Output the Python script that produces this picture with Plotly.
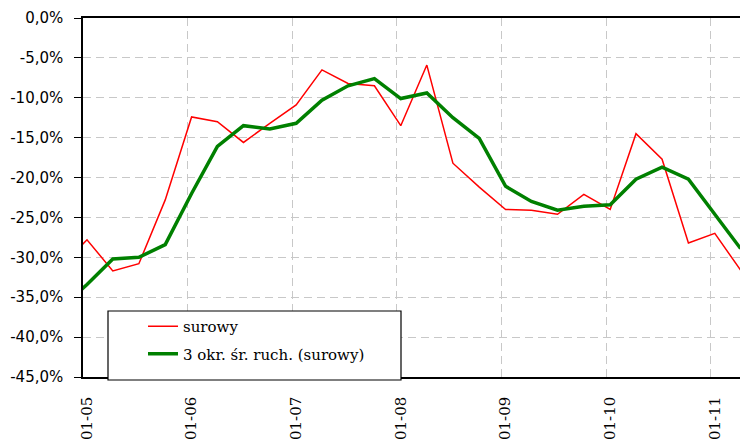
import plotly.graph_objects as go

# quarterly dates (mid-month of quarter start)
dates = [
    "2004-10-15",
    "2005-01-15", "2005-04-15", "2005-07-15", "2005-10-15",
    "2006-01-15", "2006-04-15", "2006-07-15", "2006-10-15",
    "2007-01-15", "2007-04-15", "2007-07-15", "2007-10-15",
    "2008-01-15", "2008-04-15", "2008-07-15", "2008-10-15",
    "2009-01-15", "2009-04-15", "2009-07-15", "2009-10-15",
    "2010-01-15", "2010-04-15", "2010-07-15", "2010-10-15",
    "2011-01-15", "2011-04-15",
]

surowy = [
    -31.2,
    -27.8, -31.7, -30.8, -22.8,
    -12.4, -13.0, -15.6, -13.2,
    -10.9, -6.5, -8.2, -8.5,
    -13.5, -5.9, -18.2, -21.2,
    -24.0, -24.1, -24.6, -22.1,
    -24.0, -14.5, -17.7, -28.2,
    -27.0, -31.6,
]

srednia = [
    -36.5,
    -33.4, -30.2, -30.0, -28.4,
    -22.0, -16.1, -13.5, -13.9,
    -13.2, -10.3, -8.5, -7.6,
    -10.1, -9.4, -12.5, -15.1,
    -21.1, -23.0, -24.1, -23.6,
    -23.4, -20.2, -18.7, -20.2,
    -24.6, -28.9,
]

y_ticks = [0, -5, -10, -15, -20, -25, -30, -35, -40, -45]
y_ticktext = ["0,0%", "-5,0%", "-10,0%", "-15,0%", "-20,0%", "-25,0%",
              "-30,0%", "-35,0%", "-40,0%", "-45,0%"]

x_ticks = ["2005-01-01", "2006-01-01", "2007-01-01", "2008-01-01",
           "2009-01-01", "2010-01-01", "2011-01-01"]
x_ticktext = ["01-05", "01-06", "01-07", "01-08", "01-09", "01-10", "01-11"]

fig = go.Figure()
fig.add_trace(go.Scatter(
    x=dates, y=surowy, mode="lines", name="surowy",
    line=dict(color="#ff0000", width=1.5), legendgroup="a",
))
fig.add_trace(go.Scatter(
    x=dates, y=srednia, mode="lines", name="3 okr. śr. ruch. (surowy)",
    line=dict(color="#008000", width=3.5), legendgroup="b",
))

L, T, R, B = 83, 18, 0, 62
W, H = 740, 439
pw, ph = W - L - R, H - T - B

def px_x(p):
    return (p - L) / pw

def px_y(p):
    return (H - B - p) / ph

fig.add_shape(
    type="rect", xref="paper", yref="paper",
    x0=px_x(108), x1=px_x(401), y0=px_y(380), y1=px_y(311),
    line=dict(color="black", width=1.2), fillcolor="white", layer="above",
)

fig.update_layout(
    width=W, height=H,
    margin=dict(l=L, r=R, t=T, b=B, pad=0, autoexpand=False),
    plot_bgcolor="white", paper_bgcolor="white",
    showlegend=True,
    legend=dict(
        x=px_x(143), y=px_y(310), xanchor="left", yanchor="top",
        bgcolor="rgba(0,0,0,0)", borderwidth=0,
        font=dict(family="DejaVu Serif", size=15, color="black"),
        traceorder="grouped", tracegroupgap=5,
        itemwidth=30,
    ),
    xaxis=dict(
        type="date",
        range=["2005-01-01", "2011-04-13"],
        tickvals=x_ticks, ticktext=x_ticktext,
        tickangle=-90,
        tickfont=dict(family="DejaVu Serif", size=15, color="black"),
        showgrid=True, gridcolor="#c8c8c8", gridwidth=1.2, griddash="8px,5px",
        showline=True, linecolor="black", linewidth=1.5, mirror=True,
        ticks="", ticklabelstandoff=12, ticklabelshift=4,
        zeroline=False, automargin=False,
    ),
    yaxis=dict(
        range=[-45, 0],
        tickvals=y_ticks, ticktext=y_ticktext,
        tickfont=dict(family="DejaVu Sans", size=15, color="black"),
        showgrid=True, gridcolor="#c8c8c8", gridwidth=1.2, griddash="8px,5px",
        showline=True, linecolor="black", linewidth=1.5,
        ticks="outside", ticklen=7, tickcolor="black", tickwidth=1.2,
        ticklabelstandoff=8,
        zeroline=False, automargin=False,
    ),
)

fig.write_html(
    "out.html",
    config={"displayModeBar": False},
    post_script="document.body.style.margin='0';document.body.style.overflow='hidden';",
)
